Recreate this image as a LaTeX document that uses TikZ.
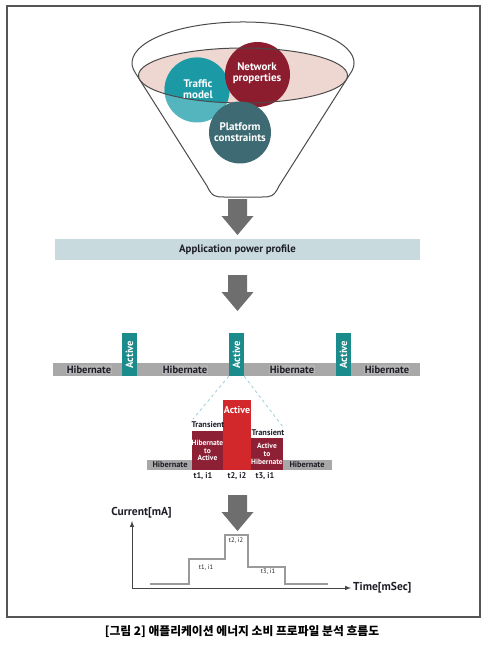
\documentclass[tikz,border=0pt]{standalone}
\usepackage{fontspec}
\setmainfont{PT Sans}
\newfontfamily\cjk{Noto Sans CJK KR}
\usetikzlibrary{calc}
\definecolor{framecol}{HTML}{555555}
\definecolor{funnelline}{HTML}{4A4A4A}
\definecolor{pinkfill}{HTML}{EED6D1}
\definecolor{trafficdark}{HTML}{1B9AA6}
\definecolor{trafficlight}{HTML}{55B5BE}
\definecolor{netred}{HTML}{8C1D2F}
\definecolor{platcol}{HTML}{3E6B73}
\definecolor{arrowgray}{HTML}{6E6E6E}
\definecolor{appfill}{HTML}{C9DADF}
\definecolor{hibgray}{HTML}{A8A8A8}
\definecolor{hiblab}{HTML}{B4B4B4}
\definecolor{activeteal}{HTML}{1B8B8C}
\definecolor{darkred}{HTML}{8E2035}
\definecolor{brightred}{HTML}{D2282C}
\definecolor{dashblue}{HTML}{9ACFDB}
\definecolor{textdark}{HTML}{1E1E28}
\definecolor{stepgray}{HTML}{9A9A9A}
\definecolor{axisgray}{HTML}{444444}
\tikzset{
  circtext/.style={text=white, font=\bfseries\fontsize{11}{10.5}\selectfont, align=center},
  downarrow/.pic={\fill[arrowgray] (-9.5,0) -- (9.5,0) -- (9.5,17) -- (16,17) -- (0,36) -- (-16,17) -- (-9.5,17) -- cycle;},
  appbar/.style={fill=appfill, minimum width=365pt, minimum height=21pt, inner sep=0pt, text=textdark, font=\bfseries\fontsize{10.8}{10.8}\selectfont},
  hibbar/.style={fill=hibgray, inner sep=0pt},
  hiblabel/.style={fill=hiblab, inner sep=1pt, text=textdark, font=\bfseries\fontsize{10.5}{10.5}\selectfont},
  activebox/.style={fill=activeteal, rotate=90, minimum width=43pt, minimum height=15pt, inner sep=0pt, text=white, font=\bfseries\fontsize{10.5}{10.5}\selectfont},
  smalllabel/.style={text=textdark, inner sep=0pt, font=\bfseries\fontsize{8.3}{8.3}\selectfont},
  blocktext/.style={text=white, align=center, inner sep=0pt, font=\bfseries\fontsize{7.5}{7.8}\selectfont},
  dashline/.style={dashblue, dashed, line width=0.8pt},
  axis/.style={axisgray, line width=1pt, -latex},
  stepline/.style={stepgray, line width=1.2pt},
  tinylabel/.style={text=textdark, inner sep=0pt, font=\fontsize{6.5}{6.5}\selectfont},
  axislabel/.style={text=textdark, inner sep=0pt, font=\bfseries\fontsize{11.5}{11.5}\selectfont}
}
\begin{document}
\begin{tikzpicture}[x=1pt,y=-1pt]
\useasboundingbox (0,0) rectangle (488,647);
\draw[framecol, line width=1.3pt] (7,6) rectangle (480,617);
% funnel
\draw[funnelline, line width=1pt] (135.8,73.6) arc[start angle=195, end angle=-15, x radius=111pt, y radius=41pt]
  -- (279,186) .. controls (274,197) and (270,197) .. (262,197) -- (224,197) .. controls (216,197) and (212,197) .. (207,186) -- cycle;
\fill[pinkfill] (243,75.5) ellipse[x radius=104.5pt, y radius=27.5pt];
\fill[trafficlight] (197,90) circle[radius=32.5pt];
\begin{scope}
  \clip (243,75.5) ellipse[x radius=104.5pt, y radius=27.5pt];
  \fill[trafficdark] (197,90) circle[radius=32.5pt];
\end{scope}
\fill[netred] (257.5,74.5) circle[radius=32.5pt];
\draw[funnelline, line width=1pt] (243,75.5) ellipse[x radius=104.5pt, y radius=27.5pt];
\fill[platcol] (240,132.5) circle[radius=31pt];
\node[circtext] (traffic) at (198,89) {Traffic\\model};
\node[circtext] (network) at (257,73) {Network\\properties};
\node[circtext] (platform) at (240,132) {Platform\\constraints};
% arrows and app bar
\pic at (237.5,199) {downarrow};
\node[appbar] (app) at (237.5,249.5) {Application power profile};
\pic at (237.5,275) {downarrow};
% hibernate timeline
\node[hibbar, minimum width=367pt, minimum height=13pt] (bar) at (236.5,369.5) {};
\node[hiblabel] (h1) at (89,369.5) {Hibernate};
\node[hiblabel] (h2) at (185,369.5) {Hibernate};
\node[hiblabel] (h3) at (292,369.5) {Hibernate};
\node[hiblabel] (h4) at (387,369.5) {Hibernate};
\node[activebox] (a1) at (129.5,354.5) {Active};
\node[activebox] (a2) at (236.5,354.5) {Active};
\node[activebox] (a3) at (343.5,354.5) {Active};
% detail
\node[hibbar, minimum width=185pt, minimum height=10pt] (sbar) at (239.5,465) {};
\node[smalllabel] (sh1) at (170,465) {Hibernate};
\node[smalllabel] (sh2) at (307,465) {Hibernate};
\node[fill=darkred, minimum width=31pt, minimum height=39pt, inner sep=0pt] (hta) at (207.5,450.5) {};
\node[fill=brightred, minimum width=28pt, minimum height=70pt, inner sep=0pt] (act) at (237,435) {};
\node[fill=darkred, minimum width=32pt, minimum height=32pt, inner sep=0pt] (ath) at (267,454) {};
\node[blocktext] (htatext) at (hta.center) {Hibernate\\to\\Active};
\node[blocktext] (athtext) at (ath.center) {Active\\to\\Hibernate};
\node[text=white, inner sep=0pt, font=\bfseries\fontsize{10}{10}\selectfont] (acttext) at (237,410) {Active};
\node[smalllabel] (tr1) at (208,425) {Transient};
\node[smalllabel] (tr2) at (268,433) {Transient};
\node[smalllabel] (l1) at (203,476.5) {t1, i1};
\node[smalllabel] (l2) at (237,476.5) {t2, i2};
\node[smalllabel] (l3) at (265,476.5) {t3, i1};
\coordinate (dl) at (193,419);
\coordinate (dr) at (283,427);
\draw[dashline] (a2.north west) -- (dl);
\draw[dashline] (a2.south west) -- (dr);
% graph
\pic at (237.5,495) {downarrow};
\coordinate (origin) at (132,588);
\coordinate (ytip) at (132,521);
\coordinate (xtip) at (351,588);
\draw[axis] (origin) -- (ytip);
\draw[axis] (origin) -- (xtip);
\node[axislabel] (ylab) at (141.5,513) {Current[mA]};
\node[axislabel, anchor=west] (xlab) at (353,588) {Time[mSec]};
\draw[stepline] (150,584) -- (189,584) -- (189,559) -- (225,559) -- (225,535) -- (248,535) -- (248,567) -- (285,567) -- (285,584) -- (328,584);
\node[tinylabel] (g2) at (236,541) {t2, i2};
\node[tinylabel] (g1) at (206,568) {t1, i1};
\node[tinylabel] (g3) at (268,572) {t3, i1};
% caption
\node[inner sep=0pt, text=black, font=\cjk\bfseries\fontsize{11.8}{11.8}\selectfont] (caption) at (242,632) {[그림 2] 애플리케이션 에너지 소비 프로파일 분석 흐름도};
\end{tikzpicture}
\end{document}
